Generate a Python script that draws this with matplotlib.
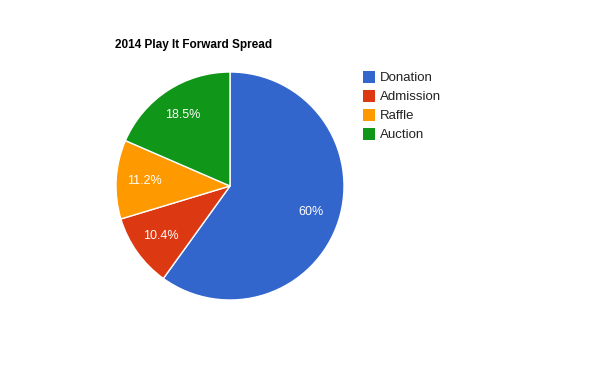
import matplotlib.pyplot as plt
from matplotlib.patches import Rectangle

plt.rcParams["font.family"] = ["Liberation Sans", "DejaVu Sans"]

# ====================== DATA ======================

categories = ["Donation", "Admission", "Raffle", "Auction"]
shares = [60.0, 10.4, 11.2, 18.5]
share_labels = ["60%", "10.4%", "11.2%", "18.5%"]
colors = ["#3366cc", "#dc3912", "#ff9900", "#109618"]

# ====================== PLOT ======================

W, H = 600, 371
fig = plt.figure(figsize=(W / 100, H / 100), dpi=100, facecolor="white")
ax = fig.add_axes([0, 0, 1, 1])

label_iter = iter(share_labels)

wedges, texts, autotexts = ax.pie(
    shares,
    colors=colors,
    center=(230, H - 186),
    radius=114,
    startangle=90,
    counterclock=False,
    normalize=True,
    autopct=lambda p: next(label_iter),
    pctdistance=0.75,
    wedgeprops=dict(edgecolor="white", linewidth=1),
    textprops=dict(color="white", fontsize=9),
    frame=True,
)
ax.set_xlim(0, W)
ax.set_ylim(0, H)
ax.axis("off")

# title
fig.text(115 / W, 1 - 45 / H, "2014 Play It Forward Spread",
         fontsize=8.5, fontweight="bold", ha="left", va="center")

# legend
for i, (cat, col) in enumerate(zip(categories, colors)):
    yc = 76.5 + i * 19
    ax.add_patch(Rectangle((363, H - yc - 6), 12, 12, facecolor=col, edgecolor="none"))
    ax.text(380, H - yc, cat, fontsize=9.5, color="#222222",
            ha="left", va="center_baseline")

plt.savefig("out.png", dpi=100, facecolor="white")
